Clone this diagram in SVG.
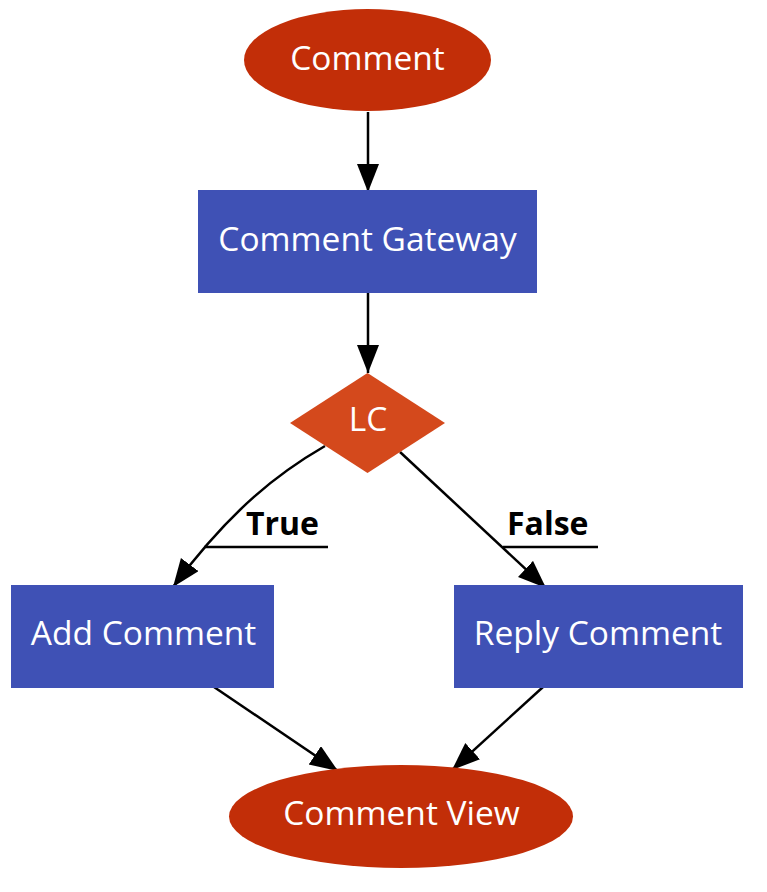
<svg xmlns="http://www.w3.org/2000/svg" width="767" height="892" viewBox="0 0 767 892">
<style>
.lbl{font-family:"Open Sans","Noto Sans",sans-serif;font-size:33.5px;fill:#ffffff;text-anchor:middle}
.elab{font-family:"Open Sans","Noto Sans",sans-serif;font-size:32px;font-weight:bold;fill:#000000}
.ell{fill:#C22E08}
.box{fill:#3F51B5}
.dia{fill:#D4491C}
.edge{fill:none;stroke:#000;stroke-width:2.5}
</style>
<defs>
<marker id="arr" markerUnits="userSpaceOnUse" markerWidth="30" markerHeight="24" refX="28" refY="11" orient="auto">
<path d="M0,0 L28,11 L0,22 z" fill="#000"/>
</marker>
</defs>
<rect width="767" height="892" fill="#fff"/>
<g id="connectors">
<path class="edge" d="M368,112 L368,192" marker-end="url(#arr)"/>
<path class="edge" d="M368,293 L368,373" marker-end="url(#arr)"/>
<path class="edge" d="M325,446 C280,472 232,508 173,587" marker-end="url(#arr)"/>
<path class="edge" d="M400,452 L546,588" marker-end="url(#arr)"/>
<path class="edge" d="M214,687 L338,771" marker-end="url(#arr)"/>
<path class="edge" d="M543,687 L452,770" marker-end="url(#arr)"/>
<text class="elab" x="246" y="535">True</text>
<line x1="204" y1="547" x2="328" y2="547" stroke="#000" stroke-width="2.5"/>
<text class="elab" x="507" y="535">False</text>
<line x1="503" y1="547" x2="598" y2="547" stroke="#000" stroke-width="2.5"/>
</g>
<g id="comment">
<ellipse class="ell" cx="367.5" cy="60" rx="123.5" ry="51"/>
<text class="lbl" x="367.5" y="70">Comment</text>
</g>
<g id="gateway">
<rect class="box" x="198" y="190" width="339" height="103"/>
<text class="lbl" x="367.5" y="251">Comment Gateway</text>
</g>
<g id="lc">
<polygon class="dia" points="367.5,373 445,423 367.5,473 290,423"/>
<text class="lbl" x="368" y="431">LC</text>
</g>
<g id="add">
<rect class="box" x="11" y="585" width="263" height="103"/>
<text class="lbl" x="143.5" y="645">Add Comment</text>
</g>
<g id="reply">
<rect class="box" x="454" y="585" width="289" height="103"/>
<text class="lbl" x="598" y="645">Reply Comment</text>
</g>
<g id="view">
<ellipse class="ell" cx="401" cy="816.5" rx="172" ry="51.5"/>
<text class="lbl" x="401.5" y="825">Comment View</text>
</g>
</svg>
